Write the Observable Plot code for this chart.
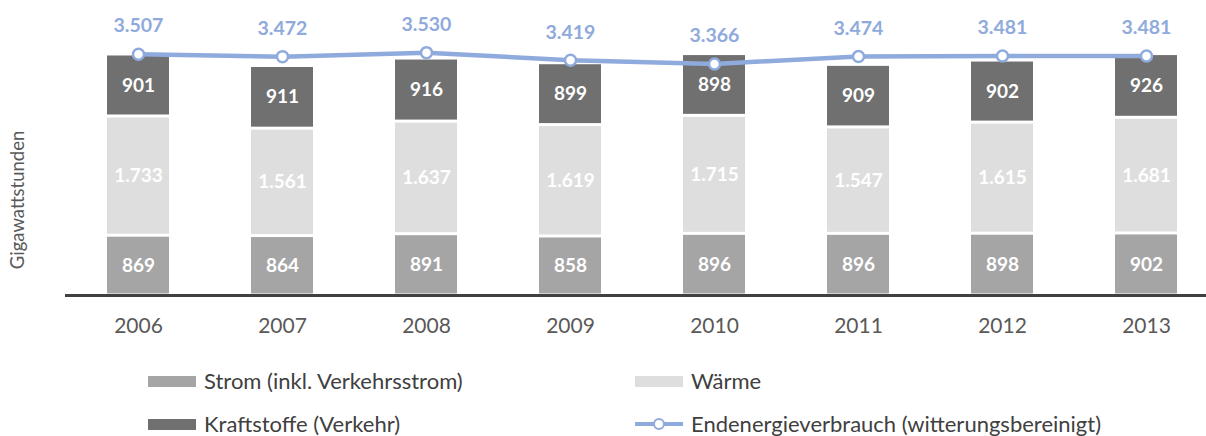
<!DOCTYPE html>
<html>
<head>
<meta charset="utf-8">
<script src="https://cdn.jsdelivr.net/npm/d3@7"></script>
<script src="https://cdn.jsdelivr.net/npm/@observablehq/plot@0.6"></script>
<style>
  html, body { margin: 0; padding: 0; background: #fff; }
  body { width: 1206px; height: 436px; overflow: hidden; font-family: Lato, "Open Sans", sans-serif; }
  #legend { position: relative; width: 1206px; height: 91px; font-size: 22px; color: #404040; }
  .item { position: absolute; display: flex; align-items: center; height: 26px; transform: translateY(-50%); white-space: nowrap; line-height: 26px; }
  .sw { width: 48px; height: 11px; margin-right: 8px; }
</style>
</head>
<body>
<div id="chart"></div>
<div id="legend"></div>
<script>
const years = ["2006", "2007", "2008", "2009", "2010", "2011", "2012", "2013"];
const strom = [869, 864, 891, 858, 896, 896, 898, 902];
const waerme = [1733, 1561, 1637, 1619, 1715, 1547, 1615, 1681];
const kraftstoffe = [901, 911, 916, 899, 898, 909, 902, 926];
const endenergie = [3507, 3472, 3530, 3419, 3366, 3474, 3481, 3481];

const seriesNames = ["Strom (inkl. Verkehrsstrom)", "Wärme", "Kraftstoffe (Verkehr)"];
const seriesColors = ["#a5a5a5", "#dedede", "#707070"];
const lineName = "Endenergieverbrauch (witterungsbereinigt)";
const lineColor = "#8faadc";

const seriesValues = [strom, waerme, kraftstoffe];
const rows = [];
seriesNames.forEach((s, si) => years.forEach((y, i) => rows.push({year: y, series: s, value: seriesValues[si][i]})));
const totals = years.map((y, i) => ({year: y, value: endenergie[i]}));

const de = d3.formatLocale({decimal: ",", thousands: ".", grouping: [3], currency: ["", "€"]});
const fmt = de.format(",d");

const chart = Plot.plot({
  width: 1206,
  height: 345,
  marginLeft: 65,
  marginRight: 0,
  marginTop: 0,
  marginBottom: 50,
  style: {fontFamily: "Lato, 'Open Sans', sans-serif", background: "#fff"},
  x: {type: "band", domain: years, range: [64.1, 1219.3], paddingInner: 0.57, paddingOuter: 0.285, label: null},
  y: {domain: [0, 3600], range: [295, 295 - 3600 * 0.0688], axis: null},
  color: {domain: seriesNames, range: seriesColors},
  marks: [
    Plot.barY(rows, Plot.stackY({x: "year", y: "value", fill: "series", insetTop: 1.5, insetBottom: 1.5})),
    Plot.text(rows, Plot.stackY({x: "year", y: "value", z: "series", text: d => fmt(d.value), fill: "white", fontWeight: "bold", fontSize: 19})),
    Plot.ruleY([0], {stroke: "#404040", strokeWidth: 3}),
    Plot.line(totals, {x: "year", y: "value", stroke: lineColor, strokeWidth: 4.5}),
    Plot.dot(totals, {x: "year", y: "value", r: 5.5, fill: "white", stroke: lineColor, strokeWidth: 2.5}),
    Plot.text(totals, {x: "year", y: "value", text: d => fmt(d.value), dy: -28, fill: lineColor, fontWeight: "bold", fontSize: 19.5}),
    Plot.text(["Gigawattstunden"], {frameAnchor: "left", textAnchor: "middle", rotate: -90, dx: -47, dy: 52, fill: "#595959", fontSize: 18.5}),
    Plot.axisX({tickSize: 0, tickPadding: 23, fontSize: 21, color: "#595959", label: null})
  ]
});
document.getElementById("chart").appendChild(chart);

const legend = document.getElementById("legend");
const items = [
  {name: seriesNames[0], color: seriesColors[0], type: "bar", left: 148, top: 36},
  {name: seriesNames[1], color: seriesColors[1], type: "bar", left: 635, top: 36},
  {name: seriesNames[2], color: seriesColors[2], type: "bar", left: 148, top: 79},
  {name: lineName, color: lineColor, type: "line", left: 635, top: 79}
];
for (const it of items) {
  const d = document.createElement("div");
  d.className = "item";
  d.style.left = it.left + "px";
  d.style.top = it.top + "px";
  if (it.type === "bar") {
    const s = document.createElement("span");
    s.className = "sw";
    s.style.background = it.color;
    d.appendChild(s);
  } else {
    const ns = "http://www.w3.org/2000/svg";
    const svg = document.createElementNS(ns, "svg");
    svg.setAttribute("width", 48); svg.setAttribute("height", 14);
    svg.style.marginRight = "8px";
    const l = document.createElementNS(ns, "line");
    l.setAttribute("x1", 0); l.setAttribute("x2", 48); l.setAttribute("y1", 7); l.setAttribute("y2", 7);
    l.setAttribute("stroke", it.color); l.setAttribute("stroke-width", 4);
    const c = document.createElementNS(ns, "circle");
    c.setAttribute("cx", 24); c.setAttribute("cy", 7); c.setAttribute("r", 5);
    c.setAttribute("fill", "white"); c.setAttribute("stroke", it.color); c.setAttribute("stroke-width", 2);
    svg.appendChild(l); svg.appendChild(c);
    d.appendChild(svg);
  }
  const t = document.createElement("span");
  t.textContent = it.name;
  d.appendChild(t);
  legend.appendChild(d);
}
</script>
</body>
</html>
